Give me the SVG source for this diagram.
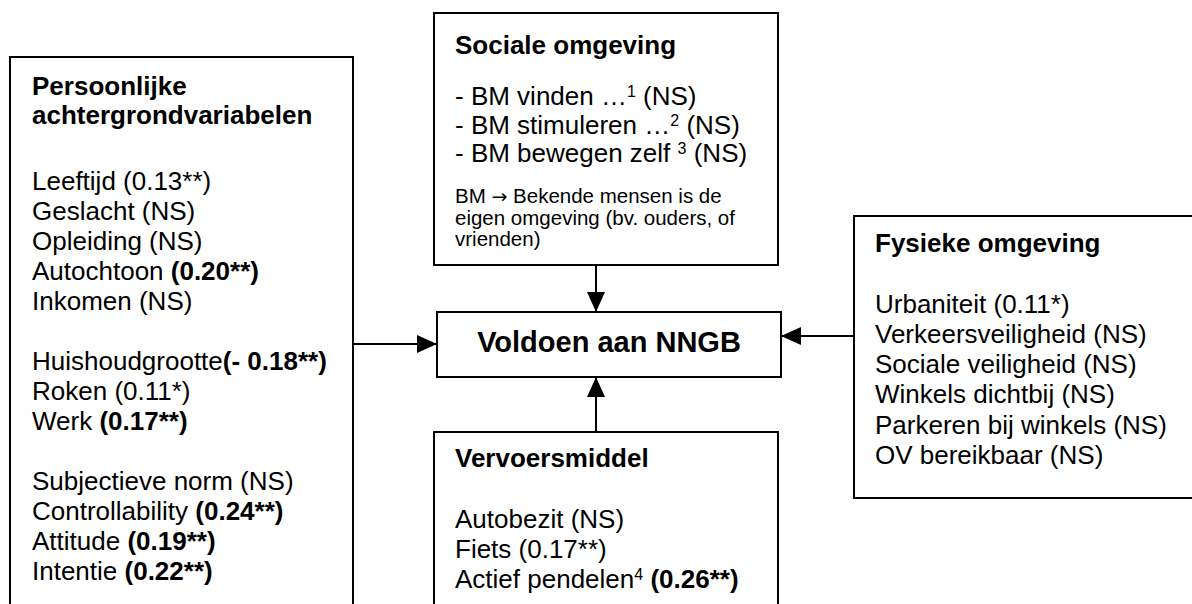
<svg xmlns="http://www.w3.org/2000/svg" width="1192" height="604" viewBox="0 0 1192 604">
<style>
.box{fill:#fff;stroke:#000;stroke-width:2}
text{font-family:"Liberation Sans",Arial,sans-serif;fill:#000}
.t{font-size:26px;font-weight:bold}
.b{font-size:26px}
.s{font-size:20.5px}
.bold{font-weight:bold}
.sup{font-size:16px}
.conn{stroke:#000;stroke-width:2;fill:none}
</style>
<defs>
<marker id="ah" markerUnits="userSpaceOnUse" markerWidth="20" markerHeight="18" refX="20" refY="9" orient="auto">
<path d="M0,0 L20,9 L0,18 Z" fill="#000"/>
</marker>
</defs>
<rect width="1192" height="604" fill="#fff"/>
<g id="persoonlijk">
<rect class="box" x="10" y="57" width="343" height="560"/>
<text class="t" x="32" y="95">Persoonlijke</text>
<text class="t" x="32" y="124">achtergrondvariabelen</text>
<text class="b" x="32" y="190">Leeftijd (0.13**)</text>
<text class="b" x="32" y="220">Geslacht (NS)</text>
<text class="b" x="32" y="250">Opleiding (NS)</text>
<text class="b" x="32" y="280">Autochtoon <tspan class="bold">(0.20**)</tspan></text>
<text class="b" x="32" y="310">Inkomen (NS)</text>
<text class="b" x="32" y="370">Huishoudgrootte<tspan class="bold">(- 0.18**)</tspan></text>
<text class="b" x="32" y="400">Roken (0.11*)</text>
<text class="b" x="32" y="430">Werk <tspan class="bold">(0.17**)</tspan></text>
<text class="b" x="32" y="490">Subjectieve norm (NS)</text>
<text class="b" x="32" y="520">Controllability <tspan class="bold">(0.24**)</tspan></text>
<text class="b" x="32" y="550">Attitude <tspan class="bold">(0.19**)</tspan></text>
<text class="b" x="32" y="580">Intentie <tspan class="bold">(0.22**)</tspan></text>
</g>
<g id="sociaal">
<rect class="box" x="434" y="13" width="344" height="252"/>
<text class="t" x="455" y="54">Sociale omgeving</text>
<text class="b" x="455" y="105">- BM vinden …<tspan class="sup" baseline-shift="super">1</tspan> (NS)</text>
<text class="b" x="455" y="133.5">- BM stimuleren …<tspan class="sup" baseline-shift="super">2</tspan> (NS)</text>
<text class="b" x="455" y="162">- BM bewegen zelf <tspan class="sup" baseline-shift="super">3</tspan> (NS)</text>
<text class="s" x="455" y="203">BM <tspan font-family="'DejaVu Sans',sans-serif" font-size="19">→</tspan> Bekende mensen is de</text>
<text class="s" x="455" y="224.5">eigen omgeving (bv. ouders, of</text>
<text class="s" x="455" y="246">vrienden)</text>
</g>
<g id="voldoen">
<rect class="box" x="437" y="312" width="344" height="65"/>
<text x="609" y="352" font-size="29" font-weight="bold" text-anchor="middle">Voldoen aan NNGB</text>
</g>
<g id="vervoer">
<rect class="box" x="434" y="432" width="344" height="190"/>
<text class="t" x="455" y="467">Vervoersmiddel</text>
<text class="b" x="455" y="528">Autobezit (NS)</text>
<text class="b" x="455" y="558">Fiets (0.17**)</text>
<text class="b" x="455" y="588">Actief pendelen<tspan class="sup" baseline-shift="super">4</tspan> <tspan class="bold">(0.26**)</tspan></text>
</g>
<g id="fysiek">
<rect class="box" x="854" y="216" width="360" height="282"/>
<text class="t" x="875" y="251.5">Fysieke omgeving</text>
<text class="b" x="875" y="313">Urbaniteit (0.11*)</text>
<text class="b" x="875" y="343">Verkeersveiligheid (NS)</text>
<text class="b" x="875" y="373">Sociale veiligheid (NS)</text>
<text class="b" x="875" y="403">Winkels dichtbij (NS)</text>
<text class="b" x="875" y="434">Parkeren bij winkels (NS)</text>
<text class="b" x="875" y="464">OV bereikbaar (NS)</text>
</g>
<g id="connectors">
<line class="conn" x1="596" y1="265" x2="596" y2="312" marker-end="url(#ah)"/>
<line class="conn" x1="353" y1="344" x2="437" y2="344" marker-end="url(#ah)"/>
<line class="conn" x1="596" y1="432" x2="596" y2="377" marker-end="url(#ah)"/>
<line class="conn" x1="854" y1="336" x2="781" y2="336" marker-end="url(#ah)"/>
</g>
</svg>
